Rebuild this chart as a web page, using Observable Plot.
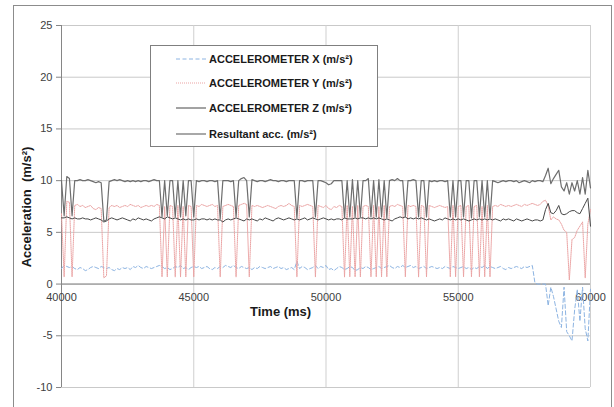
<!DOCTYPE html>
<html><head><meta charset="utf-8">
<script src="https://cdn.jsdelivr.net/npm/d3@7"></script>
<script src="https://cdn.jsdelivr.net/npm/@observablehq/plot@0.6"></script>
<style>
body{margin:0;background:#fff;}
#wrap{position:relative;width:614px;height:407px;overflow:hidden;font-family:"Liberation Sans",Arial,sans-serif;}
#frame{position:absolute;left:13px;top:5px;width:597px;height:430px;border:1px solid #8c8c8c;}
#chart{position:absolute;left:0;top:0;}
#legend{position:absolute;left:150px;top:45px;width:226px;height:100px;border:1px solid #7f7f7f;background:#fff;}
.row{position:absolute;left:0;height:16px;width:226px;}
.row svg{position:absolute;left:25px;top:6px;}
.row span{position:absolute;left:58px;top:0;font-size:11px;font-weight:bold;color:#1a1a1a;line-height:16px;white-space:nowrap;}
.title{position:absolute;font-weight:bold;font-size:13px;color:#1a1a1a;white-space:nowrap;}
</style></head>
<body>
<div id="wrap">
  <div id="frame"></div>
  <div id="chart"></div>
  <div class="title" id="xtitle" style="left:250px;top:304px;">Time (ms)</div>
  <div class="title" id="ytitle" style="left:26px;top:207px;transform:translate(-50%,-50%) rotate(-90deg);">Acceleration&nbsp;&nbsp;(m/s²)</div>
  <div id="legend"></div>
</div>
<script>
const seriesNames = ["ACCELEROMETER X (m/s²)", "ACCELEROMETER Y (m/s²)", "ACCELEROMETER Z (m/s²)", "Resultant acc. (m/s²)"];
const xTickLabels = ["40000", "45000", "50000", "55000", "60000"];
const yTickLabels = ["-10", "-5", "0", "5", "10", "15", "20", "25"];
// sampling grid: one sample every 100 ms from 40000 to 60000
const timeMs = d3.range(40000, 60001, 100);

const accX = [
1.5,1.8,1.7,1.6,1.7,1.5,1.4,1.6,1.5,1.3,
1.4,1.6,1.7,1.6,1.5,1.7,1.6,1.5,1.6,1.4,
1.3,1.5,1.4,1.6,1.5,1.6,1.4,1.7,1.6,1.8,
1.6,1.5,1.7,1.6,1.5,1.6,1.7,1.8,1.7,1.5,
1.6,1.4,1.5,1.7,1.6,1.8,1.5,1.6,1.4,1.6,
1.7,1.6,1.7,1.5,1.6,1.7,1.5,1.4,1.6,1.5,
1.7,1.6,1.8,1.7,1.6,1.8,1.6,1.5,1.7,1.6,
1.5,1.6,1.4,1.6,1.5,1.7,1.6,1.5,1.6,1.7,
1.5,1.6,1.7,1.5,1.6,1.4,1.5,1.6,1.4,2.2,
1.5,1.7,1.6,1.4,1.5,1.6,1.8,1.5,1.7,1.6,
1.8,1.4,1.5,1.3,1.5,1.7,1.6,1.4,1.5,1.7,
1.6,1.3,1.4,1.6,1.5,1.7,1.6,1.4,1.5,1.6,
1.7,1.5,1.6,1.7,1.8,1.6,1.5,1.7,1.6,1.8,
1.6,1.7,1.8,1.6,1.7,1.5,1.6,1.7,1.5,1.6,
1.7,1.6,1.5,1.6,1.5,1.7,1.6,1.5,1.7,1.6,
1.5,1.6,1.7,1.5,1.6,1.4,1.6,1.5,1.7,1.6,
1.8,1.5,1.7,1.6,1.5,1.6,1.7,1.5,1.4,1.6,
1.5,1.6,1.7,1.6,1.5,1.7,1.6,1.7,1.8,0.1,
0,0,0,0,-2.1,-0.3,-1.2,-2.4,-3.6,-4.2,
-0.3,-4.6,-5.0,-5.5,-2.5,-0.5,-3.6,-0.3,-4.3,-5.5,
-0.5];

const accY = [
6.8,0.7,8.0,7.9,0.7,7.6,7.7,7.5,7.6,7.4,
7.5,7.6,7.3,7.2,7.4,7.3,0.6,0.8,7.4,7.6,
7.5,7.6,7.4,7.5,7.6,7.5,7.7,7.6,7.5,7.6,
7.4,7.5,7.6,7.5,7.6,7.5,7.7,7.6,0.7,7.5,
0.7,7.6,7.5,0.7,7.6,0.7,7.5,0.7,7.6,7.5,
0.7,7.6,7.5,7.7,7.6,7.5,7.6,7.7,7.5,7.6,
0.7,7.5,7.6,7.7,7.6,7.5,0.7,7.6,7.7,7.8,
7.7,0.7,7.6,7.5,7.6,7.5,7.4,7.5,7.6,7.5,
7.4,7.3,7.5,7.6,7.5,7.6,7.8,7.6,7.5,0.7,
7.6,7.5,7.6,7.7,7.6,7.5,0.7,7.6,7.5,7.4,
7.6,7.3,7.2,7.5,7.4,7.6,7.5,0.7,7.6,0.7,
7.5,0.7,7.6,0.7,7.5,7.6,7.5,0.7,7.6,0.7,
7.5,0.7,7.6,0.7,7.5,7.6,7.5,7.7,7.6,7.5,
0.7,7.6,7.5,7.6,7.5,0.7,7.6,7.5,0.7,7.6,
7.5,7.4,7.5,7.6,7.5,7.4,7.5,0.7,7.6,0.7,
7.5,7.6,0.7,7.5,7.6,0.7,7.5,7.6,0.7,7.5,
0.7,7.6,0.7,7.5,7.6,7.5,7.7,7.6,7.5,7.6,
7.5,7.6,7.7,7.6,7.5,7.7,7.6,7.7,7.8,7.7,
7.6,7.7,8.0,8.1,7.6,6.2,6.5,6.3,6.2,5.8,
5.2,5.0,0.4,4.3,4.5,5.2,5.6,6.0,0.6,5.8,
7.2];

const accZ = [
6.4,6.4,6.5,6.4,6.3,6.4,6.3,6.3,6.4,6.3,
6.3,6.2,6.3,6.4,6.3,6.2,6.0,6.1,6.3,6.4,
6.3,6.2,6.3,6.4,6.3,6.2,6.1,6.3,6.2,6.4,
6.3,6.2,6.3,6.2,6.1,6.3,6.4,6.5,6.4,6.3,
6.5,6.4,6.3,6.4,6.3,6.2,6.3,6.2,6.3,6.2,
6.2,6.3,6.2,6.3,6.3,6.2,6.3,6.2,6.3,6.2,
6.2,6.0,6.2,6.3,6.2,6.3,6.4,6.3,6.2,6.1,
6.3,6.2,6.3,6.2,6.1,6.3,6.2,6.4,6.3,6.2,
6.1,6.3,6.4,6.3,6.2,6.3,6.4,6.3,6.2,6.3,
6.2,6.3,6.4,6.2,6.3,6.4,6.3,6.2,6.3,6.4,
6.3,6.2,6.3,6.2,6.3,6.3,6.2,6.4,6.3,6.3,
6.3,6.4,6.3,6.4,6.4,6.3,6.4,6.3,6.4,6.3,
6.4,6.3,6.2,6.3,6.2,6.1,6.3,6.4,6.5,6.4,
6.5,6.3,6.4,6.3,6.4,6.3,6.4,6.3,6.2,6.3,
6.2,6.1,6.2,6.3,6.2,6.4,6.3,6.2,6.3,6.2,
6.3,6.2,6.3,6.2,6.1,6.2,6.3,6.2,6.3,6.2,
6.3,6.2,6.3,6.2,6.3,6.2,6.1,6.3,6.2,6.3,
6.2,6.1,6.3,6.2,6.1,6.2,6.3,6.2,6.1,6.2,
6.2,6.1,6.2,7.2,7.8,6.9,6.8,7.1,7.6,6.8,
6.7,6.8,7.0,7.1,7.1,6.9,6.8,7.3,7.8,8.3,
5.6];

const accR = [
10.0,6.6,10.4,10.2,6.6,10.0,10.0,10.1,10.0,10.0,
10.1,10.0,9.9,9.8,9.9,9.8,6.1,6.2,9.9,10.0,
10.1,10.0,10.1,10.0,9.9,10.0,9.9,10.0,9.9,10.0,
9.9,10.0,10.0,9.9,10.0,10.1,10.0,10.0,6.5,10.0,
6.6,10.0,10.0,6.5,10.0,6.5,10.0,6.6,10.0,10.0,
6.5,10.0,9.9,10.0,10.0,9.9,10.0,10.0,9.9,10.0,
6.3,10.0,10.0,10.0,9.9,10.0,6.5,10.0,10.2,10.3,
10.0,6.5,10.1,10.0,9.9,10.0,10.0,9.9,10.0,10.1,
10.0,10.0,9.9,10.0,10.0,9.9,10.0,10.0,10.0,6.4,
10.0,10.0,9.9,10.0,10.0,10.0,6.5,10.0,10.0,9.9,
9.8,9.6,9.7,10.0,10.0,10.0,10.0,6.4,10.0,6.5,
10.1,6.5,10.0,6.5,10.0,10.0,10.2,6.5,10.0,6.5,
10.1,6.5,10.0,6.4,10.0,10.1,10.0,10.2,10.0,10.0,
6.5,10.0,10.0,10.1,10.0,6.5,10.0,10.0,6.5,10.0,
9.9,10.0,9.9,10.0,10.0,9.9,10.0,6.5,10.0,6.5,
10.0,10.0,6.5,10.0,10.0,6.4,10.0,10.0,6.5,10.0,
6.5,10.0,6.4,10.0,9.9,9.8,9.9,10.0,9.9,10.0,
10.0,9.9,10.0,9.8,9.9,10.0,9.9,9.8,10.0,9.9,
10.0,10.0,9.9,10.5,11.2,9.7,10.2,10.6,11.0,9.4,
9.0,9.8,8.7,9.8,9.0,10.0,8.7,10.3,8.7,11.0,
9.3];

const styles = [
  {stroke: "#8db4e2", strokeWidth: 1, dash: "4,2.5"},
  {stroke: "#eba3a3", strokeWidth: 1, dash: "1,1"},
  {stroke: "#474747", strokeWidth: 1, dash: null},
  {stroke: "#6e6e6e", strokeWidth: 1.2, dash: null}
];
const values = [accX, accY, accZ, accR];

const lineMarks = values.map((vals, k) => Plot.line(timeMs.map((t, i) => ({t, v: vals[i]})), {
  x: "t", y: "v", stroke: styles[k].stroke, strokeWidth: styles[k].strokeWidth,
  strokeDasharray: styles[k].dash || undefined
}));

const xTicks = xTickLabels.map(Number);
const yTicks = yTickLabels.map(Number);

const chart = Plot.plot({
  width: 614, height: 407,
  marginLeft: 61, marginRight: 24, marginTop: 25, marginBottom: 20,
  style: {background: "transparent", fontFamily: "'Liberation Sans', Arial, sans-serif"},
  x: {domain: [40000, 60000], axis: null},
  y: {domain: [-10, 25], axis: null},
  marks: [
    Plot.gridY(yTicks, {stroke: "#c9c9c9", strokeOpacity: 1}),
    Plot.gridX(xTicks, {stroke: "#cfcfcf", strokeOpacity: 1}),
    Plot.ruleY([0], {stroke: "#868686"}),
    Plot.ruleX([40000], {stroke: "#868686"}),
    Plot.axisY(yTicks, {label: null, tickSize: 5, tickPadding: 4, stroke: "#868686", fill: "#404040", fontSize: 11, tickFormat: d => String(d)}),
    Plot.text(xTicks, {x: d => d, y: 0, text: (d, i) => xTickLabels[i], dy: 13, fill: "#404040", fontSize: 11}),
    ...lineMarks
  ]
});
document.getElementById("chart").appendChild(chart);

// legend
const legend = d3.select("#legend");
const rowTops = [5, 29, 54, 80];
seriesNames.forEach((name, k) => {
  const row = legend.append("div").attr("class", "row").style("top", rowTops[k] + "px");
  const svg = row.append("svg").attr("width", 30).attr("height", 4);
  svg.append("line").attr("x1", 0).attr("x2", 30).attr("y1", 2).attr("y2", 2)
    .attr("stroke", styles[k].stroke).attr("stroke-width", styles[k].strokeWidth)
    .attr("stroke-dasharray", styles[k].dash);
  row.append("span").text(name);
});
</script>
</body></html>
